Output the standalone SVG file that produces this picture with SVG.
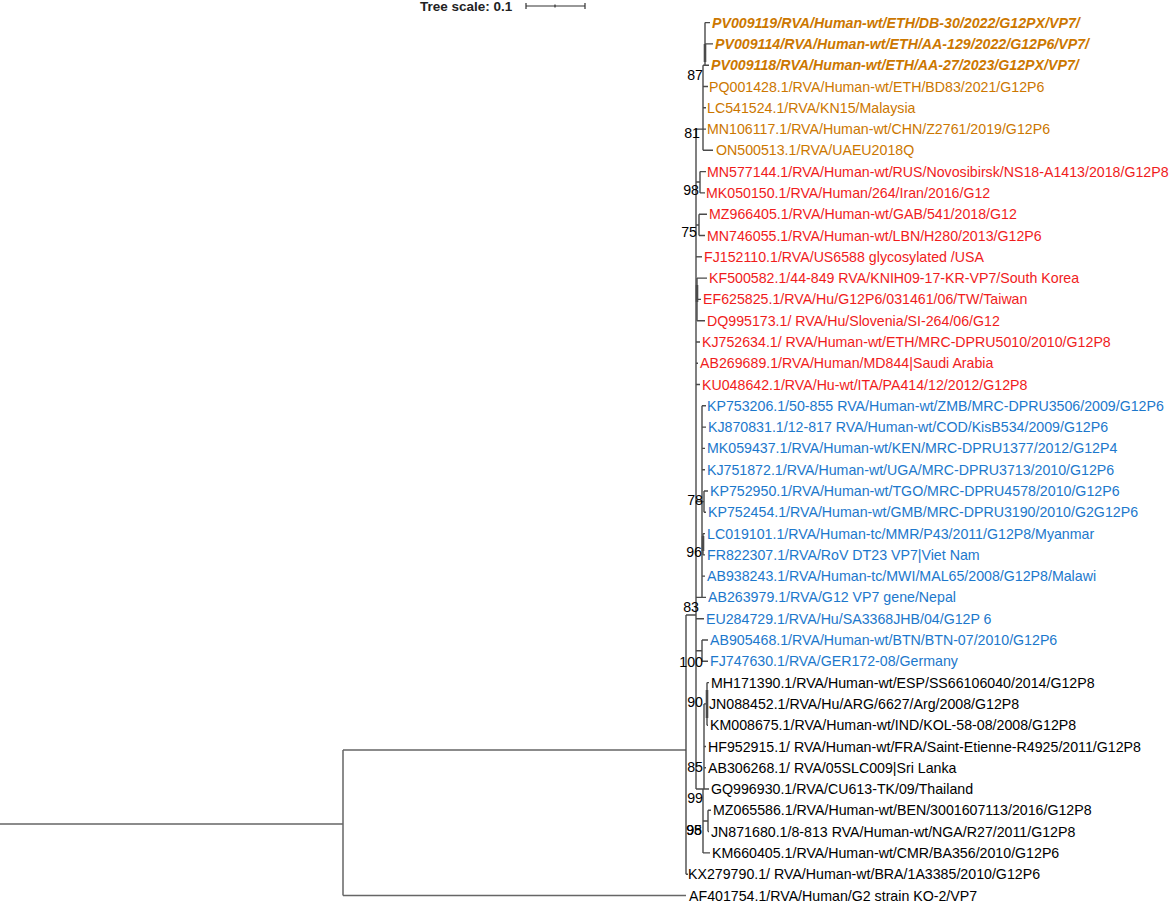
<svg xmlns="http://www.w3.org/2000/svg" width="1170" height="903" viewBox="0 0 1170 903">
<style>
text{font-family:"Liberation Sans",Arial,sans-serif;font-size:14.2px}
.o{fill:#cc7700}
.ob{fill:#cc7700;font-weight:bold;font-style:italic}
.r{fill:#f01c1c}
.b{fill:#1c78cc}
.k{fill:#000}
.bs{fill:#000;text-anchor:end}
.ts{font-size:13.5px;font-weight:bold;fill:#222}
#connectors path{fill:none;stroke:#4a4a4a;stroke-width:1.4}
#connectors path.th{stroke-width:2.6}
#connectors path.root{stroke:#666;stroke-width:1.5}
</style>
<rect width="1170" height="903" fill="#fff"/>
<g id="scale">
<text class="ts" x="420" y="11">Tree scale: 0.1</text>
<path d="M526,6H585M526,3V9M585,3V9M555,4.5V7.5" stroke="#333" stroke-width="1.2" fill="none"/>
</g>
<g id="connectors">
<path class="root" d="M0,824H343M343,750V895.5M343,895.5H686M343,750H686"/>
<path d="M686,615V874.2M686,874.2H688M686,615H696"/>
<path d="M696,129.1V789"/>
<path d="M696,129.1H703M703,65.2V150.3M703,86.5H708M703,107.8H706M703,129.1H706M703,150.3H713"/>
<path d="M703,65.2H705M705,22.6V65.2M705,22.6H710M705,43.9H713M705,65.2H709"/>
<path class="th" d="M705,44V62"/>
<path d="M696,182H700M700,171.6V192.9M700,171.6H706M700,192.9H705"/>
<path d="M696,225H699M699,214.2V235.5M699,214.2H707M699,235.5H705"/>
<path d="M696,256.8H702"/>
<path d="M696,299.4H697M697,278.1V320.7M697,278.1H707M697,299.4H701M697,320.7H705"/>
<path class="th" d="M697,285V302"/>
<path d="M696,342H700M696,363.2H698M696,384.5H700"/>
<path d="M696,501.6H702M702,405.8V597.4M702,405.8H706M702,427.1H706M702,448.4H705M702,469.7H705"/>
<path d="M702,501.6H704M704,491V512.3M704,491H708M704,512.3H706"/>
<path d="M702,544.3H703M703,533.6V554.9M703,533.6H705M703,554.9H705"/>
<path class="th" d="M703,536V551"/>
<path d="M702,576.1H705M696,597.4H706M696,618.7H704"/>
<path d="M696,650.7H702M702,640V661.3M702,640H708M702,661.3H708"/>
<path d="M696,789H709M704,703.9V789M704,703.9H707M707,682.6V725.2M707,682.6H709M707,725.2H708M704,746.5H706M704,767.8H706"/>
<path class="th" d="M707,690V718"/>
<path d="M703,789V852.9M703,821H708M708,810.3V831.6M708,810.3H711M708,831.6H709M703,852.9H710"/>
</g>
<g id="bootstrap">
<text class="bs" x="703" y="80">87</text>
<text class="bs" x="700" y="138">81</text>
<text class="bs" x="699" y="195">98</text>
<text class="bs" x="697" y="237">75</text>
<text class="bs" x="703" y="505">78</text>
<text class="bs" x="702" y="557">96</text>
<text class="bs" x="699" y="612">83</text>
<text class="bs" x="703" y="667">100</text>
<text class="bs" x="703" y="707">90</text>
<text class="bs" x="703" y="772">85</text>
<text class="bs" x="703" y="803">99</text>
<text class="bs" x="702" y="835">98</text>
<text class="bs" x="702" y="835">95</text>
</g>
<g id="n0"><text class="ob" x="712" y="27.6">PV009119/RVA/Human-wt/ETH/DB-30/2022/G12PX/VP7/</text></g>
<g id="n1"><text class="ob" x="715" y="48.9">PV009114/RVA/Human-wt/ETH/AA-129/2022/G12P6/VP7/</text></g>
<g id="n2"><text class="ob" x="711" y="70.2">PV009118/RVA/Human-wt/ETH/AA-27/2023/G12PX/VP7/</text></g>
<g id="n3"><text class="o" x="709" y="91.5">PQ001428.1/RVA/Human-wt/ETH/BD83/2021/G12P6</text></g>
<g id="n4"><text class="o" x="707" y="112.8">LC541524.1/RVA/KN15/Malaysia</text></g>
<g id="n5"><text class="o" x="707" y="134.1">MN106117.1/RVA/Human-wt/CHN/Z2761/2019/G12P6</text></g>
<g id="n6"><text class="o" x="716" y="155.3">ON500513.1/RVA/UAEU2018Q</text></g>
<g id="n7"><text class="r" x="707" y="176.6">MN577144.1/RVA/Human-wt/RUS/Novosibirsk/NS18-A1413/2018/G12P8</text></g>
<g id="n8"><text class="r" x="706" y="197.9">MK050150.1/RVA/Human/264/Iran/2016/G12</text></g>
<g id="n9"><text class="r" x="709" y="219.2">MZ966405.1/RVA/Human-wt/GAB/541/2018/G12</text></g>
<g id="n10"><text class="r" x="707" y="240.5">MN746055.1/RVA/Human-wt/LBN/H280/2013/G12P6</text></g>
<g id="n11"><text class="r" x="704" y="261.8">FJ152110.1/RVA/US6588 glycosylated /USA</text></g>
<g id="n12"><text class="r" x="709" y="283.1">KF500582.1/44-849 RVA/KNIH09-17-KR-VP7/South Korea</text></g>
<g id="n13"><text class="r" x="703" y="304.4">EF625825.1/RVA/Hu/G12P6/031461/06/TW/Taiwan</text></g>
<g id="n14"><text class="r" x="707" y="325.7">DQ995173.1/ RVA/Hu/Slovenia/SI-264/06/G12</text></g>
<g id="n15"><text class="r" x="702" y="347">KJ752634.1/ RVA/Human-wt/ETH/MRC-DPRU5010/2010/G12P8</text></g>
<g id="n16"><text class="r" x="700" y="368.2">AB269689.1/RVA/Human/MD844|Saudi Arabia</text></g>
<g id="n17"><text class="r" x="702" y="389.5">KU048642.1/RVA/Hu-wt/ITA/PA414/12/2012/G12P8</text></g>
<g id="n18"><text class="b" x="707" y="410.8">KP753206.1/50-855 RVA/Human-wt/ZMB/MRC-DPRU3506/2009/G12P6</text></g>
<g id="n19"><text class="b" x="708" y="432.1">KJ870831.1/12-817 RVA/Human-wt/COD/KisB534/2009/G12P6</text></g>
<g id="n20"><text class="b" x="707" y="453.4">MK059437.1/RVA/Human-wt/KEN/MRC-DPRU1377/2012/G12P4</text></g>
<g id="n21"><text class="b" x="707" y="474.7">KJ751872.1/RVA/Human-wt/UGA/MRC-DPRU3713/2010/G12P6</text></g>
<g id="n22"><text class="b" x="710" y="496">KP752950.1/RVA/Human-wt/TGO/MRC-DPRU4578/2010/G12P6</text></g>
<g id="n23"><text class="b" x="708" y="517.3">KP752454.1/RVA/Human-wt/GMB/MRC-DPRU3190/2010/G2G12P6</text></g>
<g id="n24"><text class="b" x="707" y="538.6">LC019101.1/RVA/Human-tc/MMR/P43/2011/G12P8/Myanmar</text></g>
<g id="n25"><text class="b" x="707" y="559.9">FR822307.1/RVA/RoV DT23 VP7|Viet Nam</text></g>
<g id="n26"><text class="b" x="707" y="581.1">AB938243.1/RVA/Human-tc/MWI/MAL65/2008/G12P8/Malawi</text></g>
<g id="n27"><text class="b" x="708" y="602.4">AB263979.1/RVA/G12 VP7 gene/Nepal</text></g>
<g id="n28"><text class="b" x="706" y="623.7">EU284729.1/RVA/Hu/SA3368JHB/04/G12P 6</text></g>
<g id="n29"><text class="b" x="710" y="645">AB905468.1/RVA/Human-wt/BTN/BTN-07/2010/G12P6</text></g>
<g id="n30"><text class="b" x="710" y="666.3">FJ747630.1/RVA/GER172-08/Germany</text></g>
<g id="n31"><text class="k" x="711" y="687.6">MH171390.1/RVA/Human-wt/ESP/SS66106040/2014/G12P8</text></g>
<g id="n32"><text class="k" x="709" y="708.9">JN088452.1/RVA/Hu/ARG/6627/Arg/2008/G12P8</text></g>
<g id="n33"><text class="k" x="710" y="730.2">KM008675.1/RVA/Human-wt/IND/KOL-58-08/2008/G12P8</text></g>
<g id="n34"><text class="k" x="708" y="751.5">HF952915.1/ RVA/Human-wt/FRA/Saint-Etienne-R4925/2011/G12P8</text></g>
<g id="n35"><text class="k" x="708" y="772.8">AB306268.1/ RVA/05SLC009|Sri Lanka</text></g>
<g id="n36"><text class="k" x="711" y="794">GQ996930.1/RVA/CU613-TK/09/Thailand</text></g>
<g id="n37"><text class="k" x="713" y="815.3">MZ065586.1/RVA/Human-wt/BEN/3001607113/2016/G12P8</text></g>
<g id="n38"><text class="k" x="711" y="836.6">JN871680.1/8-813 RVA/Human-wt/NGA/R27/2011/G12P8</text></g>
<g id="n39"><text class="k" x="712" y="857.9">KM660405.1/RVA/Human-wt/CMR/BA356/2010/G12P6</text></g>
<g id="n40"><text class="k" x="688" y="879.2">KX279790.1/ RVA/Human-wt/BRA/1A3385/2010/G12P6</text></g>
<g id="n41"><text class="k" x="689" y="900.5">AF401754.1/RVA/Human/G2 strain KO-2/VP7</text></g>
</svg>
